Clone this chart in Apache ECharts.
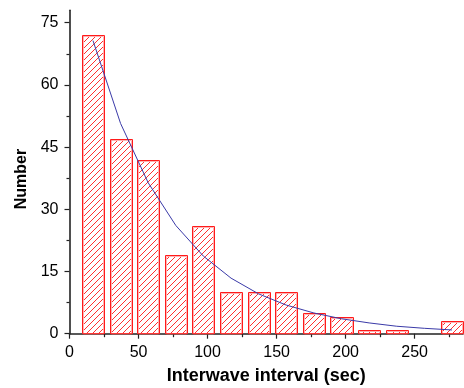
<!DOCTYPE html>
<html>
<head>
<meta charset="utf-8">
<script src="https://cdn.jsdelivr.net/npm/echarts@6/dist/echarts.min.js"></script>
<style>
html,body{margin:0;padding:0;background:#fff;}
#chart{width:464px;height:388px;}
</style>
</head>
<body>
<div id="chart"></div>
<script>
// ---- data ----
const binCenters = [17, 37, 57, 77, 97, 117, 137, 157, 177, 197, 217, 237, 277];
const counts     = [72, 47, 42, 19, 26, 10, 10, 10, 5, 4, 1, 1, 3];
const fitX = [17, 37, 57, 77, 97, 117, 137, 157, 177, 197, 217, 237, 257, 277];
const fitY = [70.7, 50.7, 36.4, 26.1, 18.7, 13.4, 9.6, 6.9, 5.0, 3.6, 2.6, 1.8, 1.3, 0.9];
const xMajorTicks = [0, 50, 100, 150, 200, 250];
const xMinorTicks = [25, 75, 125, 175, 225, 275];
const yMajorTicks = [0, 15, 30, 45, 60, 75];
const yMinorTicks = [7.5, 22.5, 37.5, 52.5, 67.5];
const xTitle = 'Interwave interval (sec)';
const yTitle = 'Number';

// ---- styling ----
const BAR_HALF_WIDTH = 8; // in x units
const FONT = 'Liberation Sans, Arial, sans-serif';

function makeHatch() {
  const s = 6;
  const c = document.createElement('canvas');
  c.width = s; c.height = s;
  const g = c.getContext('2d');
  g.fillStyle = '#ffffff';
  g.fillRect(0, 0, s, s);
  g.fillStyle = '#ff3030';
  for (let i = 0; i < s; i++) {
    g.fillRect(i, s - 1 - i, 1, 1);
  }
  return c;
}
const hatch = { image: makeHatch(), repeat: 'repeat' };

const barData = binCenters.map((x, i) => [x, counts[i]]);
const fitData = fitX.map((x, i) => [x, fitY[i]]);

const chart = echarts.init(document.getElementById('chart'), null, { renderer: 'canvas' });

const axisLineStyle = { color: '#222', width: 1.6 };
const tickStyle = { color: '#222', width: 1.2 };

chart.setOption({
  animation: false,
  backgroundColor: '#fff',
  aria: { enabled: false, decal: { show: false } },
  grid: { left: 69.5, right: 1, top: 10.3, bottom: 54.3, outerBoundsMode: 'none', containLabel: false },
  xAxis: [{
    type: 'value', min: 0, max: 285,
    axisLine: { show: true, lineStyle: axisLineStyle },
    axisTick: { show: true, customValues: xMajorTicks, length: 5, lineStyle: tickStyle },
    axisLabel: { customValues: xMajorTicks, color: '#000', fontSize: 16, fontFamily: FONT, margin: 11 },
    splitLine: { show: false },
    name: xTitle, nameLocation: 'middle', nameGap: 33.5,
    nameTextStyle: { color: '#000', fontSize: 18, fontWeight: 'bold', fontFamily: FONT }
  }, {
    type: 'value', min: 0, max: 285, position: 'bottom',
    axisLine: { show: false },
    axisTick: { show: true, customValues: xMinorTicks, length: 3.5, lineStyle: tickStyle },
    axisLabel: { show: false },
    splitLine: { show: false }
  }],
  yAxis: [{
    type: 'value', min: 0, max: 78,
    axisLine: { show: true, lineStyle: axisLineStyle },
    axisTick: { show: true, customValues: yMajorTicks, length: 5, lineStyle: tickStyle },
    axisLabel: { customValues: yMajorTicks, color: '#000', fontSize: 16, fontFamily: FONT, margin: 11 },
    splitLine: { show: false },
    name: yTitle, nameLocation: 'middle', nameGap: 36.5, nameRotate: 90,
    nameTextStyle: { color: '#000', fontSize: 16, fontWeight: 'bold', fontFamily: FONT, padding: [0, 14, 0, 0] }
  }, {
    type: 'value', min: 0, max: 78, position: 'left',
    axisLine: { show: false },
    axisTick: { show: true, customValues: yMinorTicks, length: 3, lineStyle: tickStyle },
    axisLabel: { show: false },
    splitLine: { show: false }
  }],
  series: [{
    type: 'custom',
    xAxisIndex: 0, yAxisIndex: 0,
    data: barData,
    renderItem: function (params, api) {
      const x = api.value(0), y = api.value(1);
      const p0 = api.coord([x - BAR_HALF_WIDTH, 0]);
      const p1 = api.coord([x + BAR_HALF_WIDTH, y]);
      const left = Math.round(p0[0]) + 0.5, right = Math.round(p1[0]) + 0.5;
      const top = Math.round(p1[1]) + 0.5, bottom = p0[1];
      return {
        type: 'group',
        children: [{
          type: 'rect',
          shape: { x: left, y: top, width: right - left, height: bottom - top },
          style: { fill: hatch, stroke: null }
        }, {
          type: 'rect',
          shape: { x: left + 1, y: top + 1, width: right - left - 2, height: Math.max(0, bottom - top - 1) },
          style: { fill: null, stroke: '#ffb0b0', lineWidth: 1 }
        }, {
          type: 'rect',
          shape: { x: left, y: top, width: right - left, height: bottom - top },
          style: { fill: null, stroke: '#ff1a1a', lineWidth: 1 }
        }]
      };
    },
    z: 2
  }, {
    type: 'line',
    xAxisIndex: 0, yAxisIndex: 0,
    data: fitData,
    showSymbol: false,
    symbol: 'none',
    lineStyle: { color: '#3a3aa8', width: 1 },
    z: 3
  }]
});
</script>
</body>
</html>
